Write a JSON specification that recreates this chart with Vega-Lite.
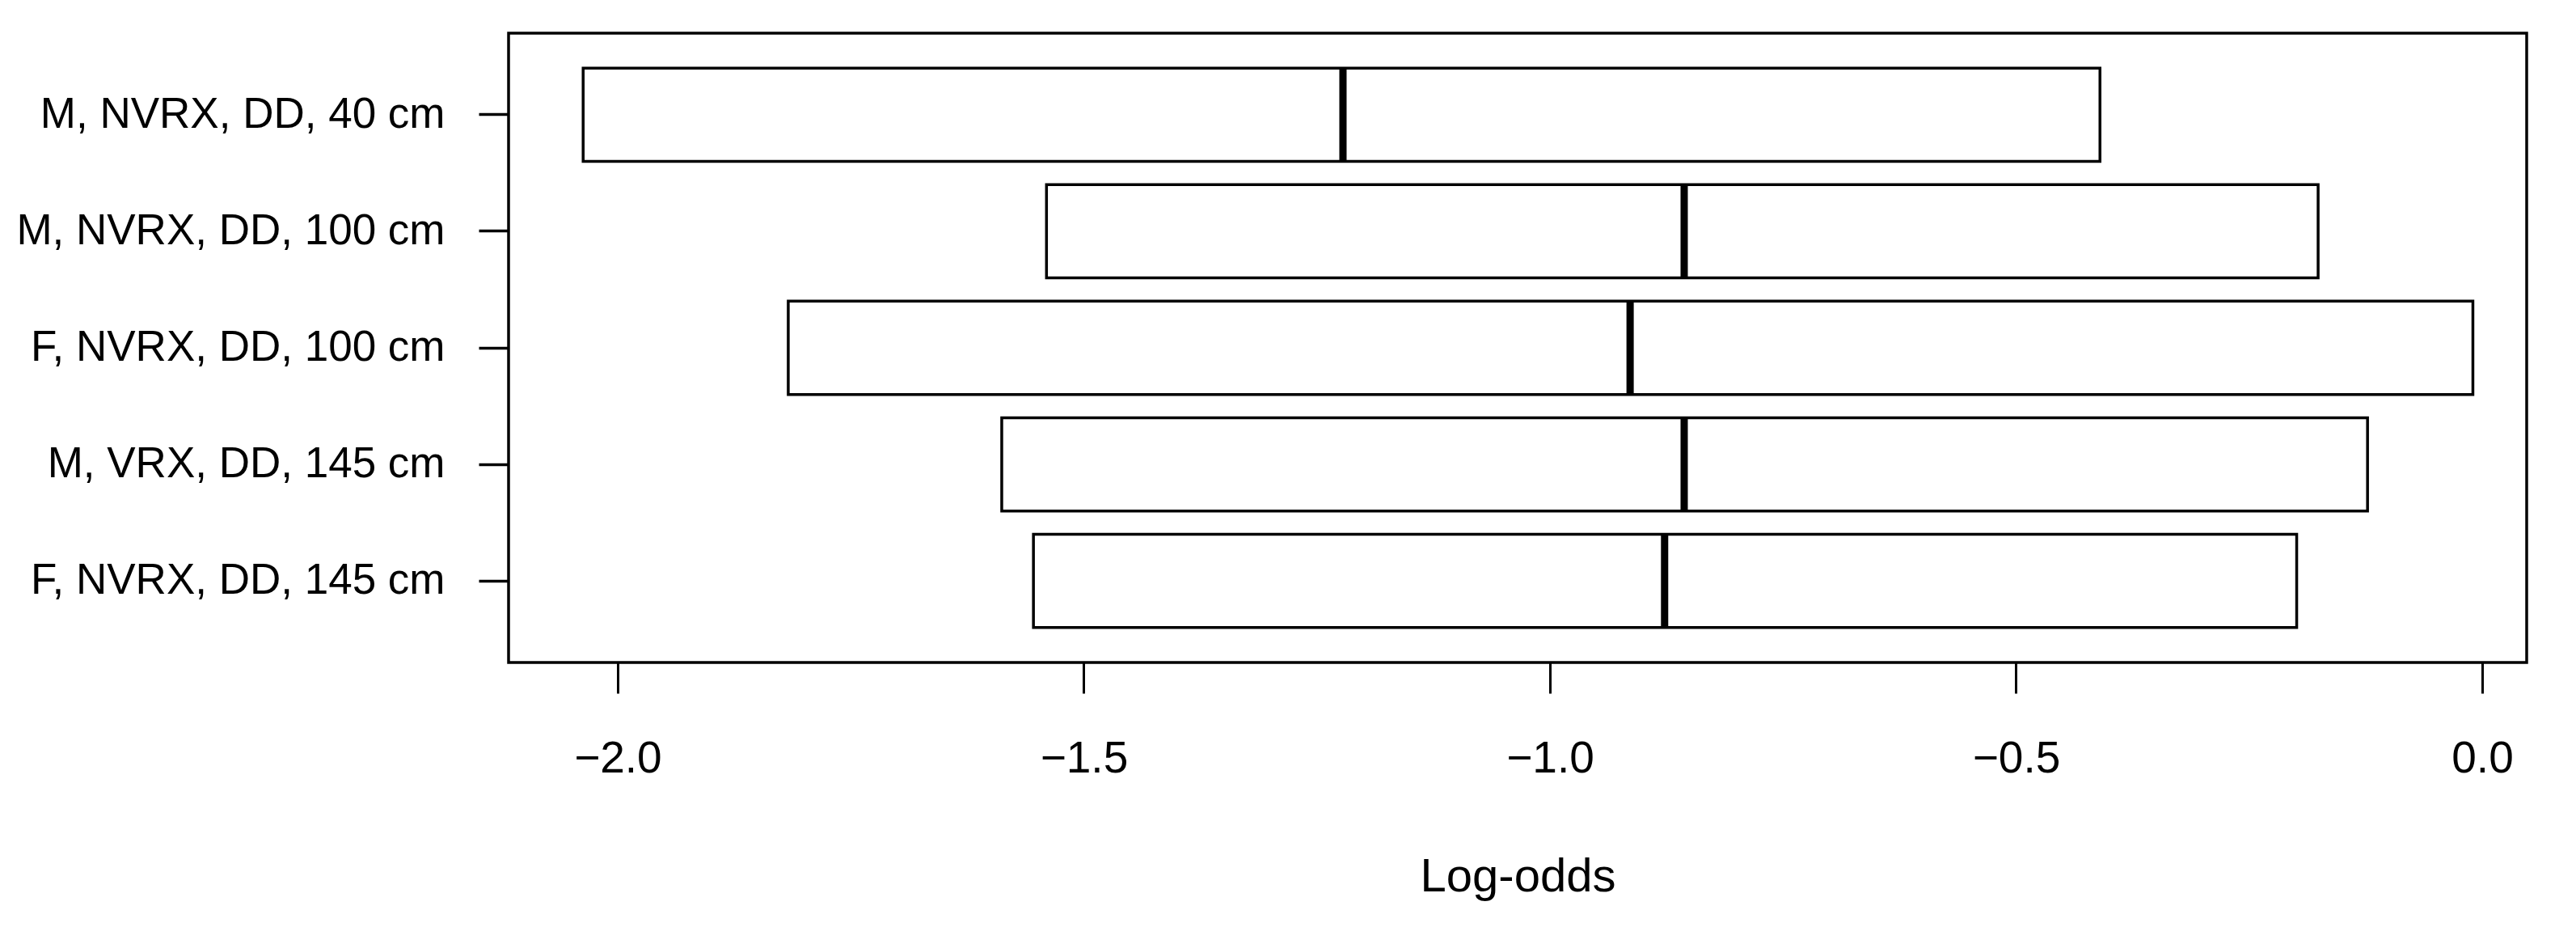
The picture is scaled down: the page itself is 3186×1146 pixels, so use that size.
{
  "$schema": "https://vega.github.io/schema/vega-lite/v6.json",
  "autosize": {"type": "none"},
  "width": 2496,
  "height": 778,
  "padding": {"left": 629, "top": 41, "right": 61, "bottom": 327},
  "background": "white",
  "config": {
    "view": {"stroke": "black", "strokeWidth": 3.5},
    "font": "Liberation Sans"
  },
  "data": {
    "values": [
      {"group": "M, NVRX, DD, 40 cm", "lo": -2.037, "median": -1.222, "hi": -0.410},
      {"group": "M, NVRX, DD, 100 cm", "lo": -1.540, "median": -0.856, "hi": -0.176},
      {"group": "F, NVRX, DD, 100 cm", "lo": -1.817, "median": -0.914, "hi": -0.010},
      {"group": "M, VRX, DD, 145 cm", "lo": -1.588, "median": -0.856, "hi": -0.123},
      {"group": "F, NVRX, DD, 145 cm", "lo": -1.554, "median": -0.877, "hi": -0.199}
    ]
  },
  "encoding": {
    "y": {
      "field": "group",
      "type": "nominal",
      "sort": ["M, NVRX, DD, 40 cm", "M, NVRX, DD, 100 cm", "F, NVRX, DD, 100 cm", "M, VRX, DD, 145 cm", "F, NVRX, DD, 145 cm"],
      "scale": {"paddingInner": 0.2, "paddingOuter": 0.3},
      "axis": {
        "title": null,
        "domain": false,
        "grid": false,
        "ticks": true,
        "tickSize": 37,
        "tickWidth": 3.5,
        "tickColor": "black",
        "labelFont": "Liberation Sans",
        "labelFontSize": 53,
        "labelColor": "black",
        "labelPadding": 42,
        "labelLimit": 0
      }
    }
  },
  "layer": [
    {
      "mark": {"type": "bar", "fill": "white", "stroke": "black", "strokeWidth": 3.5},
      "encoding": {
        "x": {
          "field": "lo",
          "type": "quantitative",
          "scale": {"domain": [-2.117, 0.0477], "nice": false, "zero": false},
          "axis": {
            "title": "Log-odds",
            "values": [-2, -1.5, -1, -0.5, 0],
            "format": ".1f",
            "domain": false,
            "grid": false,
            "tickSize": 38,
            "tickWidth": 3,
            "tickColor": "black",
            "labelFont": "Liberation Sans",
            "labelFontSize": 55,
            "labelColor": "black",
            "labelPadding": 54,
            "titleFont": "Liberation Sans",
            "titleFontSize": 58,
            "titleFontWeight": "normal",
            "titleColor": "black",
            "titlePadding": 90
          }
        },
        "x2": {"field": "hi"}
      }
    },
    {
      "mark": {"type": "tick", "color": "black", "thickness": 9, "size": 115, "opacity": 1},
      "encoding": {
        "x": {"field": "median", "type": "quantitative"}
      }
    },
    {
      "mark": {"type": "rule", "color": "black", "strokeWidth": 3.5},
      "encoding": {"x": {"datum": 0}}
    }
  ]
}
